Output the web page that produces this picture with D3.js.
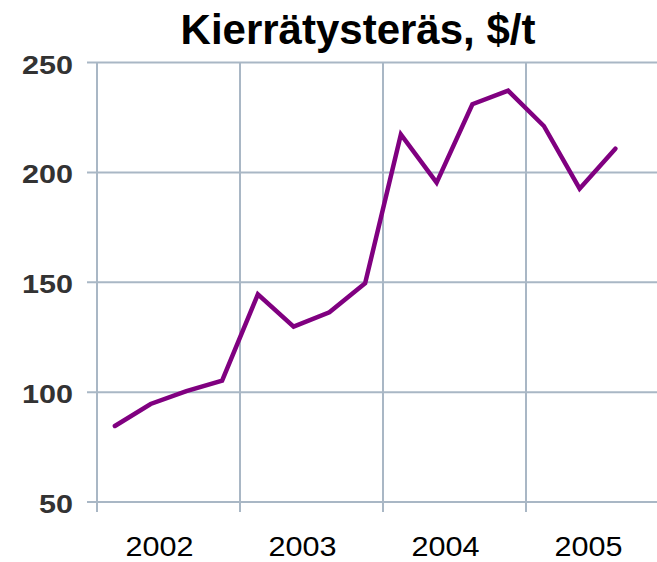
<!DOCTYPE html>
<html lang="fi">
<head>
  <meta charset="utf-8">
  <title>Kierrätysteräs</title>
  <script src="https://d3js.org/d3.v7.min.js"></script>
  <style>
    body { margin: 0; background: #fff; }
    svg { display: block; font-family: "Liberation Sans", Arial, sans-serif; }
  </style>
</head>
<body>
  <div id="chart"></div>

  <script>
    "use strict"

    // neljännesvuosittaiset hinnat 2002 Q1 - 2005 Q3
    var neljannekset = ["2002 Q1", "2002 Q2", "2002 Q3", "2002 Q4",
                        "2003 Q1", "2003 Q2", "2003 Q3", "2003 Q4",
                        "2004 Q1", "2004 Q2", "2004 Q3", "2004 Q4",
                        "2005 Q1", "2005 Q2", "2005 Q3"];
    var hinnat = [84.6, 94.6, 100.5, 105.2,
                  144.5, 129.8, 136.3, 149.5,
                  217.3, 195.3, 231.0, 237.2,
                  221.1, 192.6, 210.8];
    var vuodet = ["2002", "2003", "2004", "2005"];
    var yTikit = [50, 100, 150, 200, 250];

    var leveys = 657, korkeus = 562;
    var gridVari = "#a9b7c5";

    var svg = d3.select("#chart").append("svg")
      .attr("width", leveys)
      .attr("height", korkeus);

    // asteikot: x neljänneksinä, 4 per vuosi
    var x = d3.scaleLinear()
      .domain([0, vuodet.length * 4])
      .range([97, 97 + vuodet.length * 143]);

    var y = d3.scaleLinear()
      .domain([50, 250])
      .range([502, 62.5]);

    // vaakasuorat ruudukkoviivat
    svg.append("g").selectAll("line")
      .data(yTikit)
      .enter().append("line")
        .attr("x1", 87)
        .attr("x2", leveys)
        .attr("y1", d => y(d))
        .attr("y2", d => y(d))
        .attr("stroke", gridVari)
        .attr("stroke-width", 2);

    // pystysuorat viivat vuosien rajoilla
    svg.append("g").selectAll("line")
      .data(vuodet)
      .enter().append("line")
        .attr("x1", (d, i) => x(i * 4))
        .attr("x2", (d, i) => x(i * 4))
        .attr("y1", y(250))
        .attr("y2", y(50) + 10)
        .attr("stroke", gridVari)
        .attr("stroke-width", 2);

    // y-akselin luvut
    svg.append("g").selectAll("text")
      .data(yTikit)
      .enter().append("text")
        .attr("x", 73)
        .attr("y", d => y(d) + 2)
        .attr("dy", "0.35em")
        .attr("text-anchor", "end")
        .attr("font-size", 26)
        .attr("font-weight", "bold")
        .attr("fill", "#333")
        .attr("textLength", d => String(d).length * 17)
        .attr("lengthAdjust", "spacingAndGlyphs")
        .text(d => d);

    // x-akselin vuodet
    svg.append("g").selectAll("text")
      .data(vuodet)
      .enter().append("text")
        .attr("x", (d, i) => x(i * 4 + 1.75))
        .attr("y", 556)
        .attr("text-anchor", "middle")
        .attr("font-size", 28)
        .attr("fill", "#000")
        .attr("textLength", 68)
        .attr("lengthAdjust", "spacingAndGlyphs")
        .text(d => d);

    // hintaviiva
    var viiva = d3.line()
      .x((d, i) => x(i + 0.5))
      .y(d => y(d));

    svg.append("path")
      .datum(hinnat)
      .attr("d", viiva)
      .attr("fill", "none")
      .attr("stroke", "#800080")
      .attr("stroke-width", 4.5)
      .attr("stroke-linejoin", "miter")
      .attr("stroke-linecap", "round");

    // otsikko
    svg.append("text")
      .attr("x", 358)
      .attr("y", 44)
      .attr("text-anchor", "middle")
      .attr("font-size", 42)
      .attr("font-weight", "bold")
      .attr("fill", "#000")
      .text("Kierrätysteräs, $/t");
  </script>
</body>
</html>
